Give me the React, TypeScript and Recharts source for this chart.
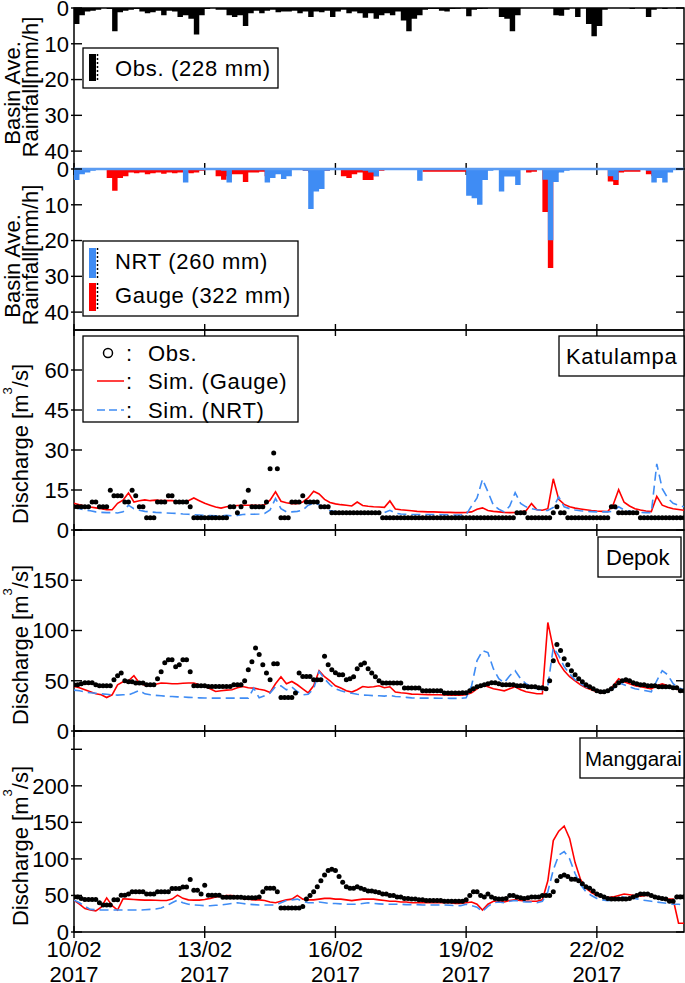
import React from "react";
import { ComposedChart, Area, Line, Scatter, XAxis, YAxis, ReferenceLine } from "recharts";

// basin average rainfall, 3-hour bins from 10/02/2017 00:00 [mm/h]
const rainObs = [
  4.5, 2.0, 1.0, 0.8, 0.5, 0, 0.3, 6.5,
  1.2, 0.8, 0.5, 0.3, 1.0, 1.5, 1.2, 0.8,
  2.0, 0.8, 1.0, 2.5, 2.0, 3.0, 7.4, 2.0,
  0.3, 0, 0.5, 0.5, 2.0, 2.5, 2.0, 5.0,
  1.5, 0.8, 1.5, 0.8, 0.5, 1.2, 1.0, 1.0,
  0.8, 1.5, 1.0, 2.5, 1.0, 1.2, 0.8, 2.5,
  1.0, 0.5, 1.5, 1.0, 1.5, 2.7, 1.5, 3.0,
  2.0, 1.5, 2.0, 1.0, 3.5, 6.5, 3.0, 2.0,
  0.5, 0.3, 0.3, 0.8, 1.0, 0.3, 0.2, 0,
  2.3, 0.5, 0.3, 0.2, 0, 0, 2.5, 3.0,
  6.5, 2.0, 0, 0, 0, 0, 0, 0,
  2.0, 2.2, 0.5, 0, 2.5, 0, 4.5, 7.9,
  5.0, 0.5, 0, 0, 0, 0, 0.3, 0,
  0, 2.5, 0.5, 0, 0.3, 0, 0, 0,
];
const rainNrt = [
  3.1, 1.5, 1.0, 0.5, 0.3, 0.2, 0.2, 0.2,
  0.2, 0.2, 0.1, 0.1, 0.1, 0.1, 0.1, 0.1,
  0.1, 0.1, 0.2, 0.2, 3.8, 0.3, 0.2, 0,
  0, 0, 0, 0.5, 3.8, 0.3, 0.2, 0.2,
  0.2, 0.2, 0.2, 3.8, 2.5, 1.5, 2.8, 2.0,
  0.3, 0, 0.5, 11.2, 6.3, 5.6, 0.5, 0.2,
  0.2, 0.2, 0.2, 0.2, 0.2, 0.5, 1.0, 2.0,
  0.3, 0, 0, 0, 0, 0, 0, 3.3,
  0.1, 0.1, 0.1, 0.1, 0.1, 0.1, 0.1, 0.1,
  7.5, 8.2, 10.0, 3.1, 0.5, 0.2, 6.3, 2.1,
  2.1, 4.5, 0.3, 0, 0, 0, 3.0, 19.9,
  3.6, 1.0, 0.5, 0, 0, 0, 0, 0,
  0, 0, 2.0, 3.1, 0.5, 0, 0, 0,
  0, 0.5, 3.8, 2.5, 3.8, 1.0, 0, 0,
];
const rainGauge = [
  0.5, 0.5, 0.3, 0.2, 0.2, 0.2, 2.5, 6.1,
  2.5, 2.0, 1.0, 1.2, 1.0, 1.5, 1.2, 1.0,
  1.3, 1.0, 1.2, 1.0, 1.0, 1.2, 1.0, 0.5,
  0, 0, 2.0, 3.0, 2.0, 1.5, 1.5, 3.6,
  1.0, 1.0, 0.8, 2.0, 1.5, 0.8, 0.5, 0.3,
  0, 0, 0.5, 1.0, 0.5, 0.5, 0.5, 0,
  0.3, 2.0, 2.5, 1.5, 1.0, 3.1, 3.1, 2.0,
  0.5, 0.3, 0.3, 0.3, 0.3, 0.3, 0.3, 0.3,
  0.8, 0.8, 0.8, 0.8, 0.8, 0.8, 0.8, 0.8,
  0.5, 0.2, 0.2, 0.2, 0.2, 0.2, 0.2, 0.2,
  0.2, 0.2, 0.2, 1.0, 0.8, 0, 12.0, 27.7,
  1.0, 0.5, 0.2, 0.2, 0.2, 0.2, 0.2, 0.2,
  0.2, 0.2, 3.5, 4.5, 1.0, 0.8, 0.8, 0.8,
  0, 1.5, 2.0, 1.0, 0.5, 0.3, 0.3, 0.3,
];

// simulated discharge every 3 hours [m3/s]
const katulampaGauge = [
  10.0, 9.5, 9.0, 8.6, 8.3, 8.0, 7.6, 7.6,
  10.0, 11.2, 13.9, 10.5, 11.0, 11.3, 11.0, 11.2,
  11.0, 11.0, 11.0, 10.8, 10.5, 11.0, 12.0, 11.0,
  10.0, 9.3, 8.6, 8.2, 8.7, 9.0, 9.2, 9.3,
  9.3, 9.3, 9.2, 9.5, 11.2, 14.3, 10.8, 10.2,
  9.9, 9.9, 10.5, 12.0, 14.5, 13.5, 11.5, 10.3,
  9.8, 9.5, 9.3, 9.0, 10.5, 9.2, 8.9, 8.7,
  8.6, 8.5, 10.9, 7.9, 7.6, 7.4, 7.2, 7.0,
  6.9, 6.8, 6.8, 6.7, 6.6, 6.6, 6.5, 6.5,
  6.6, 6.8, 7.8, 8.3, 7.3, 7.0, 6.8, 6.6,
  6.5, 6.6, 6.8, 7.2, 9.9, 7.6, 7.4, 8.0,
  19.2, 11.5, 9.6, 8.7, 8.2, 7.9, 7.6, 7.3,
  7.1, 7.0, 6.9, 9.5, 15.1, 10.4, 9.0, 8.0,
  7.5, 7.1, 6.9, 12.6, 9.3, 8.5, 8.0, 7.7,
  7.4,
];
const katulampaNrt = [
  8.7, 8.0, 7.5, 7.2, 6.8, 6.6, 6.5, 6.5,
  6.4, 6.8, 9.3, 8.0, 7.4, 7.0, 6.8, 6.6,
  6.5, 6.4, 6.3, 6.2, 6.0, 5.9, 5.7, 5.6,
  5.5, 5.4, 5.3, 5.3, 5.5, 5.3, 5.5, 5.8,
  5.9, 5.9, 6.0, 6.2, 7.5, 11.8, 8.0, 6.8,
  6.8, 7.0, 7.4, 9.3, 10.0, 9.5, 8.0, 7.3,
  6.9, 6.6, 6.5, 6.4, 6.6, 6.2, 6.2, 6.3,
  6.4, 6.5, 7.4, 6.3, 6.0, 5.9, 5.8, 5.8,
  5.8, 5.8, 5.8, 5.8, 5.7, 5.7, 5.6, 5.6,
  5.8, 9.0, 12.0, 19.0, 14.3, 9.3, 7.8, 6.8,
  9.0, 14.0, 10.0, 8.7, 8.0, 7.6, 7.4, 7.3,
  8.5, 12.4, 8.7, 8.0, 7.5, 7.2, 7.0, 6.9,
  6.8, 6.8, 6.8, 7.0, 8.7, 7.5, 7.0, 6.8,
  6.6, 6.5, 6.5, 24.8, 15.5, 12.0, 10.0, 9.3,
  8.7,
];
const depokGauge = [
  44.3, 43, 41, 39, 37, 36, 33.3, 36,
  46, 49, 50, 55, 47.7, 45.5, 45, 46.5,
  47.7, 47.5, 47, 47, 47.5, 47.7, 47.7, 46,
  44.3, 42, 39.3, 40, 40.7, 41, 43, 44.3,
  43, 42.7, 41.5, 40.5, 38.3, 47, 54, 47,
  49.3, 46, 42, 38, 45, 60, 54, 50,
  45, 42.7, 40, 38.7, 41, 44.3, 43.5, 44,
  45, 43, 44, 38.7, 38, 37.5, 36.7, 36.5,
  36.3, 36.2, 36, 36, 35.8, 35.7, 35.7, 35.5,
  36, 38, 42, 46, 44, 42, 41, 40,
  42, 44, 41, 39, 38, 37, 37, 108,
  82, 68, 60, 54, 50, 46, 43, 41,
  39, 38, 40, 45, 52, 49, 47, 45,
  44, 43, 42, 45, 47, 45, 43, 41,
  40,
];
const depokNrt = [
  40.7, 40, 39, 38, 37.5, 37, 36.5, 36,
  35.7, 36, 36, 38, 40.3, 37, 36, 35.5,
  35, 34.5, 34.3, 34, 33.8, 33.5, 33.2, 33,
  32.8, 32.7, 32.7, 32.7, 32.7, 32.7, 32.7, 32.7,
  32.7, 42.7, 33, 35, 37.7, 44, 45, 41,
  43.7, 39.3, 36, 36.5, 42, 59.3, 52, 46,
  42, 40, 38.5, 37.5, 36.5, 35.7, 35.5, 35.2,
  35, 34.7, 35.5, 34.3, 34, 33.5, 33, 32.8,
  32.7, 32.7, 32.7, 32.6, 32.6, 32.5, 32.5, 32.5,
  33, 45, 70, 80, 78, 62, 52, 48,
  55, 60, 52, 47, 44, 42, 41, 45,
  83, 75, 64, 57, 51, 47, 44, 42,
  40, 39, 39, 42, 48, 46, 44, 42,
  41, 40, 39, 50, 60, 56, 47, 43,
  41,
];
const manggaraiGauge = [
  43.6, 38, 32, 30, 29, 34, 46.7, 36,
  30, 45.4, 45, 44.5, 44, 43.6, 43.6, 43.4,
  43.2, 43, 45, 50.4, 46, 44, 43.6, 43.6,
  44.5, 46, 48, 49, 50, 50, 48, 46,
  45, 44, 44, 43, 41, 40, 42, 44,
  45, 50, 45, 44, 44, 45, 46, 46,
  45, 45, 44, 43, 44, 45, 45, 45,
  44, 43, 42, 42, 41, 41, 40, 40,
  40, 40, 40, 40, 40, 40, 39, 39,
  40, 41, 38, 30, 38, 42, 42, 41,
  43, 44, 43, 42, 42, 42, 44, 70,
  125, 138, 145, 128, 95, 72, 60, 54,
  50, 48, 47, 48, 50, 52, 51, 50,
  49, 50, 50, 48, 46, 45, 45, 12,
  12,
];
const manggaraiNrt = [
  43.6, 40, 35, 31, 30.5, 30.2, 30, 30,
  30, 30, 30, 30, 30, 30.5, 31, 31.5,
  32.7, 36, 40, 43.6, 40, 38, 37, 36.5,
  36, 36, 36.5, 37, 38, 39, 40, 39,
  38, 37.5, 37, 37, 37, 37, 40, 43,
  44, 45, 42, 40, 40, 41, 40, 39,
  39, 38.5, 38, 38, 38, 39, 40, 39,
  38.5, 38, 38, 38, 38, 37.5, 37.5, 37.5,
  37, 37, 37, 37, 37, 36.5, 36, 36,
  38, 36, 34, 28, 35, 40, 41, 40,
  42, 43, 42, 41, 41, 40, 42, 55,
  85, 105, 110, 100, 80, 65, 55, 50,
  46, 44, 43, 44, 46, 48, 47, 46,
  44, 43, 42, 41, 40, 39, 38, 38,
  37,
];

// observed discharge every 2 hours [m3/s]
const katulampaObs = [
  8.7, 8.7, 8.7, 8.7, 8.7, 10.5, 10.5, 8.7, 8.7, 8.7, 14.9, 12.8,
  12.8, 12.8, 10.5, 10.5, 14.9, 12.8, 8.7, 8.7, 4.6, 4.6, 4.6, 10.5,
  10.5, 10.5, 12.8, 12.8, 10.5, 10.5, 10.5, 10.5, 8.7, 4.6, 4.6, 4.6,
  4.6, 4.6, 4.6, 4.6, 4.6, 4.6, 4.6, 8.7, 8.7, 6.5, 8.7, 10.5,
  14.9, 8.7, 8.7, 8.7, 8.7, 10.5, 23, 28.9, 23, 4.6, 4.6, 4.6,
  10.5, 10.5, 10.5, 12.8, 10.5, 10.5, 10.5, 10.5, 8.7, 8.7, 8.7, 6.5,
  6.5, 6.5, 6.5, 6.5, 6.5, 6.5, 6.5, 6.5, 6.5, 6.5, 6.5, 6.5,
  6.5, 4.6, 4.6, 4.6, 4.6, 4.6, 4.6, 4.6, 4.6, 4.6, 4.6, 4.6,
  4.6, 4.6, 4.6, 4.6, 4.6, 4.6, 4.6, 4.6, 4.6, 4.6, 4.6, 4.6,
  4.6, 4.6, 4.6, 4.6, 4.6, 4.6, 4.6, 4.6, 4.6, 4.6, 4.6, 4.6,
  4.6, 4.6, 6.5, 6.5, 6.5, 4.6, 4.6, 4.6, 4.6, 4.6, 4.6, 4.6,
  6.5, 8.7, 6.5, 6.5, 4.6, 4.6, 4.6, 4.6, 4.6, 4.6, 4.6, 4.6,
  4.6, 4.6, 4.6, 4.6, 8.7, 8.7, 6.5, 6.5, 6.5, 6.5, 6.5, 6.5,
  4.6, 4.6, 4.6, 4.6, 4.6, 4.6, 4.6, 4.6, 4.6, 4.6, 4.6, 4.6,
  4.6,
];
const depokObs = [
  46, 46, 47, 48, 48, 48, 46, 45, 45, 45, 45, 51,
  55, 57.7, 50, 49, 49, 47.7, 47.7, 47.7, 46, 46, 46, 52,
  59, 68, 71, 71, 64, 66, 71, 71, 59, 45, 45, 45,
  45, 44.3, 44.3, 44.3, 44.3, 44.3, 44.3, 44.3, 46, 46, 46, 50,
  61, 69, 82.7, 76, 66, 57.7, 51, 67, 67, 33.3, 33.3, 33.3,
  33.3, 37.7, 57.7, 54.3, 54.3, 54.3, 51, 51, 51, 74.3, 66, 61,
  58, 56, 56, 51, 52, 54, 62, 66, 67.7, 62, 57.7, 54,
  50, 47.7, 47.7, 47.7, 47.7, 47.7, 47.7, 42.7, 42.7, 42.7, 42.7, 42.7,
  40, 40, 40, 40, 40, 40, 37.7, 37.7, 37.7, 37.7, 37.7, 38,
  38, 40, 42, 44, 45, 46, 47, 48, 48, 47, 46, 46,
  46, 46, 45, 45, 45, 44, 44, 44, 43, 43, 42, 50,
  70, 86, 80, 72, 66, 60, 56, 52, 49, 46, 44, 42,
  40, 39, 39, 40, 42, 45, 48, 50, 51, 50, 48, 47,
  46, 46, 45, 45, 45, 44, 44, 44, 44, 43, 43, 40,
  40,
];
const manggaraiObs = [
  48, 48, 46, 44.5, 44.5, 44.5, 44.5, 40, 36.8, 36.8, 36.8, 44,
  44, 50.4, 50.4, 52, 55, 55, 55, 55, 52, 52, 52, 55,
  55, 55, 55, 59.5, 59.5, 59.5, 61.7, 61.7, 71.8, 57, 57, 52,
  64, 50.4, 50.4, 50.4, 50.4, 47.5, 47.5, 47.5, 47.5, 47.5, 47.5, 47,
  47, 47, 47, 48, 55, 60, 60, 60, 55, 33, 33, 33,
  33, 33, 33, 35, 45, 50, 55, 62, 70, 78, 84, 86,
  84, 76, 68, 62, 60, 60, 62, 60, 58, 56, 56, 55,
  54, 52, 52, 50, 50, 48, 48, 46, 46, 45, 45, 44,
  44, 43, 43, 43, 43, 43, 42, 42, 42, 42, 42, 42,
  44, 50, 55, 55, 50, 48, 52, 48, 46, 45, 45, 46,
  50, 50, 48, 47, 46, 47, 48, 48, 48, 50, 50, 50,
  55, 70, 76, 78, 76, 72, 72, 70, 66, 62, 60, 56,
  52, 50, 48, 46, 45, 45, 45, 45, 45, 46, 48, 50,
  52, 52, 52, 50, 48, 47, 46, 45, 42, 42, 48, 48,
  48,
];

const dayTicks = [0, 3, 6, 9, 12];
const dayLabels = ["10/02", "13/02", "16/02", "19/02", "22/02"];
const yearLabel = "2017";

const rainTicks = [0, 10, 20, 30, 40];
const katulampaTicks = [0, 15, 30, 45, 60];
const depokTicks = [0, 50, 100, 150];
const manggaraiTicks = [0, 50, 100, 150, 200, 250];

const W = 685;
const H = 983;
const LEFT = 74;
const PLOT_W = 610;
const PAD = 10;
const FONT = "'Liberation Sans', Arial, Helvetica, sans-serif";
const BLUE = "#3f8cf4";
const RED = "#ff0000";

const P1 = { top: 8, h: 161 };
const P2 = { top: 169, h: 161 };
const P3 = { top: 330, h: 200 };
const P4 = { top: 530, h: 201 };
const P5 = { top: 731, h: 201 };

const rainRows = rainObs.map((v, i) => ({ t: i / 8, obs: v, nrt: rainNrt[i], gauge: rainGauge[i] }));
rainRows.push({ t: 14, obs: 0, nrt: 0, gauge: 0 });

const simRows = (g: number[], n: number[]) => g.map((v, i) => ({ t: i / 8, g: v, n: n[i] }));
const obsRows = (o: number[]) => o.map((v, j) => ({ t: j / 12, v }));

function XTick(props: any) {
  const { x, y, payload, withLabels } = props;
  const k = dayTicks.indexOf(payload.value);
  return (
    <g>
      <line x1={x} x2={x} y1={y - 6} y2={y + 6} stroke="#000" strokeWidth={1.4} />
      {withLabels && (
        <text x={x} y={y + 25} textAnchor="middle" fontSize={22} fontFamily={FONT} fill="#000">
          {dayLabels[k]}
        </text>
      )}
      {withLabels && (
        <text x={x} y={y + 50} textAnchor="middle" fontSize={22} fontFamily={FONT} fill="#000">
          {yearLabel}
        </text>
      )}
    </g>
  );
}

function YTick(props: any) {
  const { x, y, payload, hideValue } = props;
  const show = payload.value !== hideValue;
  return (
    <g>
      <line x1={x - 3} x2={x + 8} y1={y} y2={y} stroke="#000" strokeWidth={1.4} />
      <line x1={x + PLOT_W - 8} x2={x + PLOT_W} y1={y} y2={y} stroke="#000" strokeWidth={1.4} />
      {show && (
        <text x={x - 5} y={y} dy="0.36em" textAnchor="end" fontSize={22} fontFamily={FONT} fill="#000">
          {payload.value}
        </text>
      )}
    </g>
  );
}

// axes are 1px thick so that recharts still draws their ticks
function xAxis(withLabels: boolean) {
  return (
    <XAxis
      type="number"
      dataKey="t"
      domain={[0, 14]}
      allowDataOverflow
      ticks={dayTicks}
      interval={0}
      height={1}
      tickSize={0}
      tickMargin={0}
      tickLine={false}
      axisLine={false}
      tick={(p: any) => <XTick {...p} withLabels={withLabels} />}
    />
  );
}

function yAxis(domain: number[], ticks: number[], reversed: boolean, hideValue?: number) {
  return (
    <YAxis
      type="number"
      domain={domain}
      allowDataOverflow
      ticks={ticks}
      interval={0}
      width={1}
      tickSize={0}
      tickMargin={0}
      tickLine={false}
      axisLine={false}
      reversed={reversed}
      tick={(p: any) => <YTick {...p} hideValue={hideValue} />}
    />
  );
}

const dotShape = (p: any) => <circle cx={p.cx} cy={p.cy} r={2.5} fill="#000" />;

const margin = (bottom: number) => ({ top: PAD, right: W - LEFT - PLOT_W, bottom: bottom - 1, left: LEFT - 1 });

function DischargePanel({ panel, gauge, nrt, obs, domain, ticks, hideValue, withLabels }: any) {
  const bottom = withLabels ? 55 : PAD;
  return (
    <div style={{ position: "absolute", left: 0, top: panel.top - PAD }}>
      <ComposedChart width={W} height={panel.h + PAD + bottom} margin={margin(bottom)}>
        {xAxis(withLabels)}
        {yAxis(domain, ticks, false, hideValue)}
        <Scatter data={obsRows(obs)} dataKey="v" fill="#000" shape={dotShape} isAnimationActive={false} />
        <Line data={simRows(gauge, nrt)} type="linear" dataKey="g" stroke={RED} strokeWidth={1.6} dot={false} activeDot={false} isAnimationActive={false} />
        <Line data={simRows(gauge, nrt)} type="linear" dataKey="n" stroke={BLUE} strokeWidth={1.6} strokeDasharray="9 5" dot={false} activeDot={false} isAnimationActive={false} />
      </ComposedChart>
    </div>
  );
}

const txt = { fontSize: 22, fontFamily: FONT, fill: "#000" };
const wide = { ...txt, letterSpacing: 0.7 };

function RotLabel({ x, y, children }: any) {
  return (
    <text x={x} y={y} transform={`rotate(-90 ${x} ${y})`} textAnchor="middle" {...txt}>
      {children}
    </text>
  );
}

function DischargeLabel({ y }: { y: number }) {
  return (
    <RotLabel x={28} y={y}>
      Discharge [m
      <tspan dy={-16} fontSize={13}>3</tspan>
      <tspan dy={16}>/s]</tspan>
    </RotLabel>
  );
}

export default function App() {
  const frames = [P1, P2, P3, P4, P5];
  return (
    <div style={{ position: "absolute", left: 0, top: 0, width: W, height: H, background: "#fff", overflow: "hidden" }}>
      <svg width={W} height={H} style={{ position: "absolute", left: 0, top: 0 }}>
        {frames.map((p, i) => (
          <rect key={i} x={LEFT} y={p.top} width={PLOT_W} height={p.h} fill="none" stroke="#000" strokeWidth={1.5} />
        ))}
      </svg>

      <div style={{ position: "absolute", left: 0, top: P1.top - PAD }}>
        <ComposedChart width={W} height={P1.h + 2 * PAD} margin={margin(PAD)} data={rainRows}>
          {xAxis(false)}
          {yAxis([0, 45], rainTicks, true)}
          <Area type="stepAfter" dataKey="obs" baseValue={0} stroke="none" fill="#000" fillOpacity={1} dot={false} activeDot={false} isAnimationActive={false} />
        </ComposedChart>
      </div>

      <div style={{ position: "absolute", left: 0, top: P2.top - PAD }}>
        <ComposedChart width={W} height={P2.h + 2 * PAD} margin={margin(PAD)} data={rainRows}>
          {xAxis(false)}
          {yAxis([0, 45], rainTicks, true)}
          <Area type="stepAfter" dataKey="gauge" baseValue={0} stroke="none" fill={RED} fillOpacity={1} dot={false} activeDot={false} isAnimationActive={false} />
          <Area type="stepAfter" dataKey="nrt" baseValue={0} stroke="none" fill={BLUE} fillOpacity={1} dot={false} activeDot={false} isAnimationActive={false} />
          <ReferenceLine y={0} stroke="#5b9cf2" strokeWidth={2.5} />
        </ComposedChart>
      </div>

      <DischargePanel panel={P3} gauge={katulampaGauge} nrt={katulampaNrt} obs={katulampaObs} domain={[0, 75]} ticks={katulampaTicks} withLabels={false} />
      <DischargePanel panel={P4} gauge={depokGauge} nrt={depokNrt} obs={depokObs} domain={[0, 200]} ticks={depokTicks} withLabels={false} />
      <DischargePanel panel={P5} gauge={manggaraiGauge} nrt={manggaraiNrt} obs={manggaraiObs} domain={[0, 275]} ticks={manggaraiTicks} hideValue={250} withLabels={true} />

      <svg width={W} height={H} style={{ position: "absolute", left: 0, top: 0 }}>
        {/* axis titles */}
        <RotLabel x={19.5} y={93}>Basin Ave.</RotLabel>
        <RotLabel x={38} y={87}>Rainfall[mm/h]</RotLabel>
        <RotLabel x={19.5} y={266}>Basin Ave.</RotLabel>
        <RotLabel x={38} y={255}>Rainfall[mm/h]</RotLabel>
        <DischargeLabel y={444} />
        <DischargeLabel y={645} />
        <DischargeLabel y={846} />

        {/* rainfall legends */}
        <rect x={83} y={48} width={195} height={40} fill="#fff" stroke="#000" strokeWidth={1.3} />
        <rect x={89} y={54} width={7} height={27} fill="#000" />
        <line x1={97.5} x2={97.5} y1={54} y2={81} stroke="#000" strokeWidth={1.5} strokeDasharray="2 2" />
        <text x={115} y={76} {...wide}>Obs. (228 mm)</text>

        <rect x={83} y={241} width={215} height={75} fill="#fff" stroke="#000" strokeWidth={1.3} />
        <rect x={89} y={248} width={7} height={30} fill={BLUE} />
        <line x1={97.5} x2={97.5} y1={248} y2={278} stroke="#000" strokeWidth={1.5} strokeDasharray="2 2" />
        <text x={115} y={269} {...wide}>NRT (260 mm)</text>
        <rect x={89} y={283} width={7} height={28} fill={RED} />
        <line x1={97.5} x2={97.5} y1={283} y2={311} stroke="#000" strokeWidth={1.5} strokeDasharray="2 2" />
        <text x={115} y={303} {...wide}>Gauge (322 mm)</text>

        {/* discharge legend */}
        <rect x={83} y={336} width={215} height={86} fill="#fff" stroke="#000" strokeWidth={1.3} />
        <circle cx={108} cy={353} r={4.5} fill="none" stroke="#000" strokeWidth={1.5} />
        <text x={126} y={360.5} {...txt}>:</text>
        <text x={148} y={360.5} {...wide}>Obs.</text>
        <line x1={97} x2={124} y1={381} y2={381} stroke={RED} strokeWidth={1.5} />
        <text x={126} y={388.5} {...txt}>:</text>
        <text x={148} y={388.5} {...wide}>Sim. (Gauge)</text>
        <line x1={97} x2={124} y1={410} y2={410} stroke={BLUE} strokeWidth={1.5} strokeDasharray="8 4" />
        <text x={126} y={417.5} {...txt}>:</text>
        <text x={148} y={417.5} {...wide}>Sim. (NRT)</text>

        {/* station names */}
        <rect x={559} y={336} width={125} height={40} fill="#fff" stroke="#000" strokeWidth={1.3} />
        <text x={566} y={363.5} {...wide}>Katulampa</text>
        <rect x={598} y={537} width={83} height={40} fill="#fff" stroke="#000" strokeWidth={1.3} />
        <text x={606} y={565} {...txt}>Depok</text>
        <rect x={580} y={738} width={104} height={40} fill="#fff" stroke="#000" strokeWidth={1.3} />
        <text x={585} y={766} {...txt} fontSize={20.5}>Manggarai</text>
      </svg>
    </div>
  );
}
